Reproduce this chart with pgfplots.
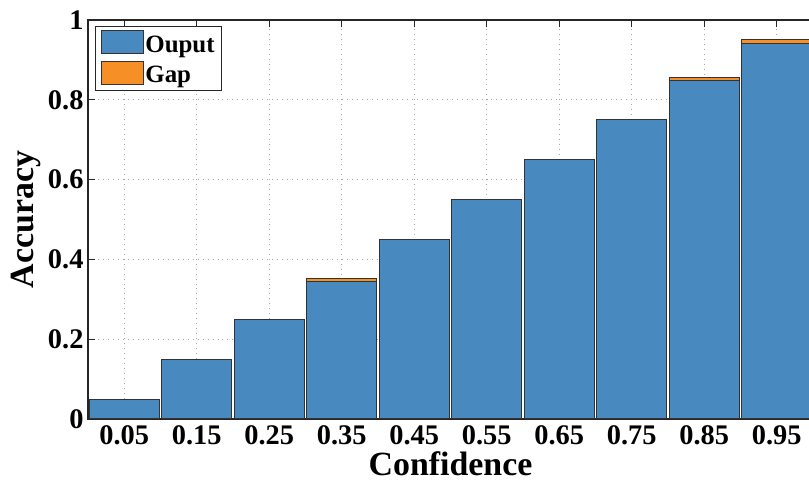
\documentclass[border=0pt]{standalone}
\usepackage{fontspec}
\setmainfont{Liberation Serif}
\usepackage{pgfplots}
\pgfplotsset{compat=1.18}
\definecolor{barblue}{RGB}{72,138,191}
\definecolor{barorange}{RGB}{245,143,38}
\pgfplotsset{mylegimg/.style={legend image code/.code={\draw[##1, line width=0.9pt] (0bp,-9bp) rectangle (42bp,14bp);}}}
\begin{document}
\begin{tikzpicture}[x=1bp,y=1bp]
\begin{axis}[
  at={(0,0)}, anchor=south west,
  scale only axis, width=725bp, height=399bp,
  xmin=0, xmax=1, ymin=0, ymax=1,
  ybar stacked, bar width=0.096,
  every axis plot post/.append style={mylegimg},
  xtick={0.05,0.15,0.25,0.35,0.45,0.55,0.65,0.75,0.85,0.95},
  xticklabels={0.05,0.15,0.25,0.35,0.45,0.55,0.65,0.75,0.85,0.95},
  ytick={0,0.2,0.4,0.6,0.8,1},
  yticklabels={0,0.2,0.4,0.6,0.8,1},
  tick align=inside, major tick length=7bp,
  tick style={black!85, line width=1pt},
  grid=major,
  grid style={gray!70, line width=0.8pt, dash pattern=on 1pt off 4pt},
  tick label style={font=\fontsize{28.5}{28.5}\selectfont\bfseries},
  xticklabel style={yshift=-3.5bp},
  yticklabel style={xshift=-1bp},
  xlabel={Confidence}, ylabel={Accuracy},
  label style={font=\fontsize{34}{34}\selectfont\bfseries},
  xlabel style={yshift=0.5bp},
  axis line style={line width=1.3pt, black!85},
  legend style={at={(0.0097,0.985)}, anchor=north west, draw=black!85, line width=1pt,
    font=\fontsize{25}{25}\selectfont\bfseries, inner xsep=5pt, inner ysep=4pt,
    row sep=5pt, /tikz/every even column/.append style={column sep=4pt}},
  legend cell align=left,
]
\addplot[fill=barblue, draw=black!80, line width=1pt] coordinates {(0.05,0.05) (0.15,0.15) (0.25,0.25) (0.35,0.345) (0.45,0.449) (0.55,0.55) (0.65,0.65) (0.75,0.75) (0.85,0.848) (0.95,0.94)};
\addplot[fill=barorange, draw=black!80, line width=1pt] coordinates {(0.05,0) (0.15,0) (0.25,0) (0.35,0.006) (0.45,0.002) (0.55,0) (0.65,0) (0.75,0) (0.85,0.007) (0.95,0.01)};
\legend{Ouput,Gap}
\end{axis}
\pgfresetboundingbox
\useasboundingbox (-88,-64) rectangle (721,419);
\end{tikzpicture}
\end{document}
